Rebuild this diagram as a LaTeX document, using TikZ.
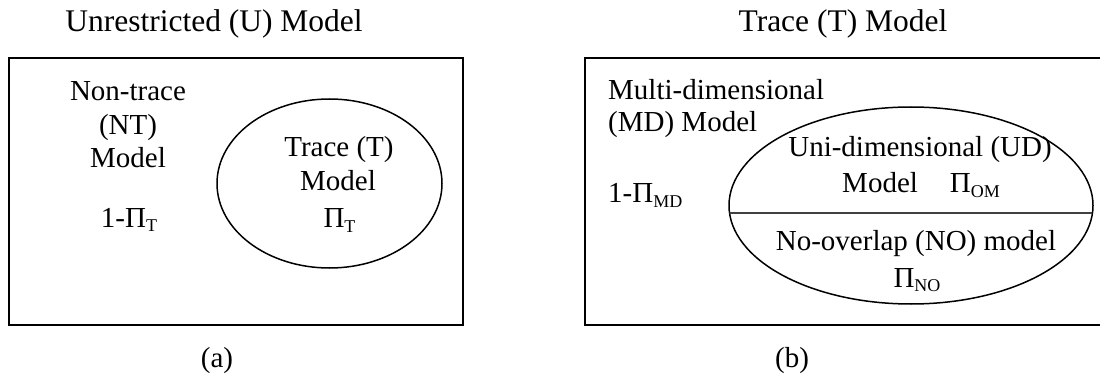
\documentclass[tikz,border=0pt]{standalone}
\usepackage{fontspec}
\setmainfont{Liberation Serif}
\usetikzlibrary{shapes.geometric}
% small subscript set slightly below the baseline
\newcommand\lowsub[1]{\raisebox{-0.14em}{\fontsize{18}{18}\selectfont #1}}
\tikzset{
  frame/.style={line width=1.7pt, line join=miter},
  oval/.style={draw, ellipse, line width=1.5pt, inner sep=0pt, outer sep=0pt},
  heading/.style={inner sep=0pt, anchor=base, font=\fontsize{31.5}{36}\selectfont},
  label/.style={inner sep=0pt, anchor=base, font=\fontsize{29}{33.5}\selectfont},
  lefttext/.style={label, anchor=base west},
  divider/.style={line width=1.5pt, draw=black!75}
}
\begin{document}
\begin{tikzpicture}[x=1pt, y=-1pt]
\useasboundingbox (0,0) rectangle (1100,382);
\fill[white] (0,0) rectangle (1100,382);

% ---- panel (a): unrestricted model ----
\node[heading] (titleU) at (214,32) {Unrestricted (U) Model};
\draw[frame] (9,58) rectangle (463,325);
\node[oval, minimum width=225pt, minimum height=169pt] (traceset) at (329.5,183.5) {};
\node[label] (nt1) at (128,101) {Non-trace};
\node[label] (nt2) at (128,135) {(NT)};
\node[label] (nt3) at (128,168) {Model};
\node[label] (ntp) at (129,227) {1-Π\lowsub{T}};
\node[label] (t1) at (339,157) {Trace (T)};
\node[label] (t2) at (338,191) {Model};
\node[label] (tp) at (339.5,228) {Π\lowsub{T}};
\node[label] (capa) at (217,367) {(a)};

% ---- panel (b): trace model ----
\node[heading] (titleT) at (843,32) {Trace (T) Model};
\draw[frame] (1100,58) -- (585,58) -- (585,325) -- (1100,325);
\node[oval, minimum width=364pt, minimum height=197pt] (mdset) at (911,205.5) {};
% horizontal split of the ellipse, kept inside its outline
\begin{scope}
  \clip (mdset.center) ellipse [x radius=182pt, y radius=98.5pt];
  \draw[divider] ([yshift=-7.5pt]mdset.west) -- ([yshift=-7.5pt]mdset.east);
\end{scope}
\node[lefttext] (md1) at (608,100) {Multi-dimensional};
\node[lefttext] (md2) at (608,132) {(MD) Model};
\node[lefttext] (mdp) at (608,203) {1-Π\lowsub{MD}};
\node[label] (ud1) at (920,157) {Uni-dimensional (UD)};
\node[label] (ud2) at (921,193) {Model\hspace{1.1em}Π\lowsub{OM}};
\node[label] (no1) at (916,250) {No-overlap (NO) model};
\node[label] (no2) at (917,287) {Π\lowsub{NO}};
\node[label] (capb) at (792,367) {(b)};
\end{tikzpicture}
\end{document}
